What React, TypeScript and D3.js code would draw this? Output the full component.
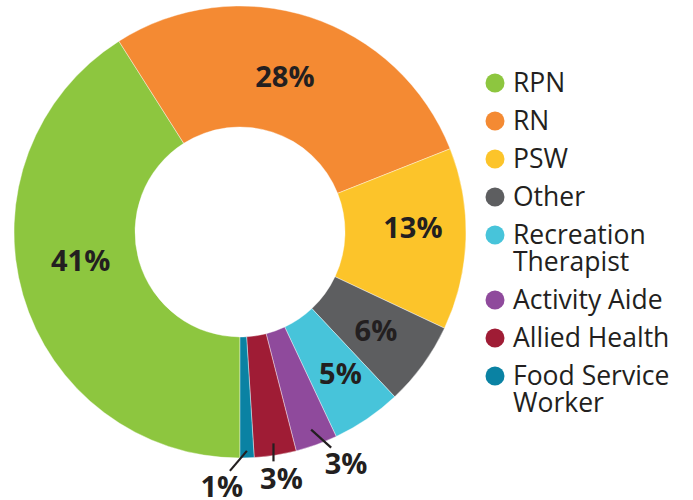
import React from "react";
import * as d3 from "d3";

const categories = ["RPN", "RN", "PSW", "Other", "Recreation Therapist", "Activity Aide", "Allied Health", "Food Service Worker"];
const legendLines = [["RPN"], ["RN"], ["PSW"], ["Other"], ["Recreation", "Therapist"], ["Activity Aide"], ["Allied Health"], ["Food Service", "Worker"]];
const values = [41, 28, 13, 6, 5, 3, 3, 1];
const colors = ["#8dc63f", "#f48a33", "#fcc42a", "#5d5e60", "#47c4da", "#8f4a9c", "#9f1c35", "#0a82a3"];

const W = 693, H = 500;
const cx = 240, cy = 232;
const outerR = 226, innerR = 105;
const textColor = "#231f20";
const font = "'Open Sans', 'DejaVu Sans', sans-serif";

// callout layout for the small slices (index -> [startRadius, dx, dy, labelDx, labelDy])
const callouts: Record<number, [number, number, number, number, number]> = {
  5: [210, 20, 18, 15, 26],
  6: [214, 0, 18, 8, 28],
  7: [219, -17, 20, -8, 26],
};
// small nudges for inside labels (index -> [dx, dy])
const nudges: Record<number, [number, number]> = {
  0: [2, -18],
  1: [-7, 4],
  2: [5, -10],
  4: [6, 3],
};

export default function App() {
  const pie = d3.pie<number>().sort(null).value((d) => d).startAngle(Math.PI).endAngle(3 * Math.PI);
  const arcs = pie(values);
  const arc = d3.arc<d3.PieArcDatum<number>>().innerRadius(innerR).outerRadius(outerR);

  const labelR = 168;
  const legendX = 495;
  let ly = 83;
  const legendRows = legendLines.map((lines, i) => {
    const y = ly;
    ly += 38 + (lines.length - 1) * 27;
    return { lines, y, color: colors[i], name: categories[i] };
  });

  return (
    <svg width={W} height={H} style={{ position: "absolute", left: 0, top: 0, background: "#fff" }}>
      <g transform={`translate(${cx},${cy})`}>
        {arcs.map((a, i) => (
          <path key={i} d={arc(a) || ""} fill={colors[i]} stroke="#fff" strokeWidth={0.4} />
        ))}
        {arcs.map((a, i) => {
          const mid = (a.startAngle + a.endAngle) / 2;
          const label = `${values[i]}%`;
          const c = callouts[i];
          if (c) {
            const [r0, dx, dy, ldx, ldy] = c;
            const x0 = r0 * Math.sin(mid);
            const y0 = -r0 * Math.cos(mid);
            const x1 = x0 + dx, y1 = y0 + dy;
            return (
              <g key={"l" + i}>
                <line x1={x0} y1={y0} x2={x1} y2={y1} stroke={textColor} strokeWidth={2.2} />
                <text x={x1 + ldx} y={y1 + ldy} textAnchor="middle" fontFamily={font} fontWeight={700} fontSize={29} fill={textColor}>
                  {label}
                </text>
              </g>
            );
          }
          const n = nudges[i] || [0, 0];
          const x = labelR * Math.sin(mid) + n[0];
          const y = -labelR * Math.cos(mid) + n[1];
          return (
            <text key={"l" + i} x={x} y={y} dy="0.36em" textAnchor="middle" fontFamily={font} fontWeight={700} fontSize={29} fill={textColor}>
              {label}
            </text>
          );
        })}
      </g>
      {legendRows.map((row, i) => (
        <g key={"lg" + i}>
          <circle cx={legendX} cy={row.y} r={9.5} fill={row.color} />
          {row.lines.map((t, j) => (
            <text key={j} x={513} y={row.y + 9 + j * 27} fontFamily={font} fontSize={26.5} fill={textColor}>
              {t}
            </text>
          ))}
        </g>
      ))}
    </svg>
  );
}
